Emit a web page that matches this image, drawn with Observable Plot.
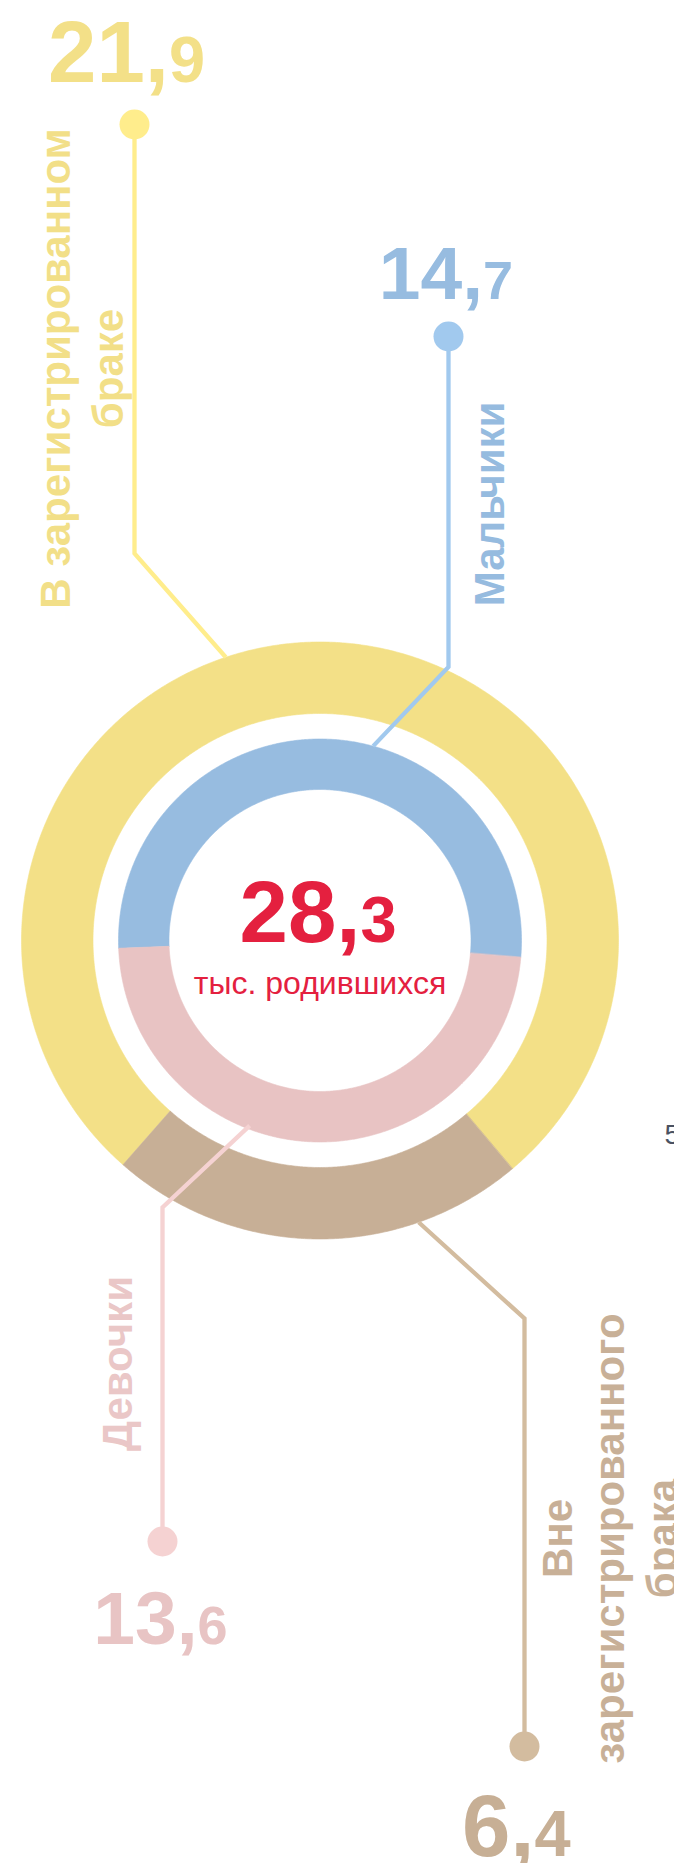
<!DOCTYPE html>
<html><head><meta charset="utf-8">
<script src="https://cdn.jsdelivr.net/npm/d3@7"></script>
<script src="https://cdn.jsdelivr.net/npm/@observablehq/plot@0.6"></script>
<style>
html,body{margin:0;padding:0;background:#fff;overflow:hidden;}
#chart svg{display:block;overflow:hidden;}
</style></head><body><div id="chart"></div>
<script>
// ---------------- data ----------------
const marriageCategories = ["В зарегистрированном браке", "Вне зарегистрированного брака"];
const marriageValues = [21.9, 6.4];
const sexCategories = ["Мальчики", "Девочки"];
const sexValues = [14.7, 13.6];
const totalValue = 28.3;
const totalUnit = "тыс. родившихся";
const labelLines = {
  "В зарегистрированном браке": "В зарегистрированном\nбраке",
  "Вне зарегистрированного брака": "Вне\nзарегистрированного\nбрака",
  "Мальчики": "Мальчики",
  "Девочки": "Девочки"
};
const strayText = "5";

// ---------------- layout & style ----------------
const W = 674, H = 1863;
const cx = 319.5, cy = 940;
const deg = Math.PI / 180;
const ringGeom = {
  outer: {r0: 227, r1: 298.5, start: 221.3},
  inner: {r0: 151, r1: 201.5, start: 267.8}
};
const style = {
  "В зарегистрированном браке": {ring: "#F3E087", line: "#FFED8C", text: "#F3E088", label: "#F2DF88"},
  "Вне зарегистрированного брака": {ring: "#C7AF96", line: "#D3BC9F", text: "#C7AF95", label: "#C8B097"},
  "Мальчики": {ring: "#97BCE0", line: "#A1C9EE", text: "#97BCE0", label: "#96BBDF"},
  "Девочки": {ring: "#E8C3C3", line: "#F5D2D2", text: "#E8C4C4", label: "#EAC7C7"}
};
const callout = {
  "В зарегистрированном браке":   {angle: 341.6, r: 298.5, bend: [134, 553],  dot: [134, 124],  joint: 168.5, base: 81,   big: 87, small: 65, lx: 122, ly: 368},
  "Мальчики":                      {angle: 15.3,  r: 201.5, bend: [448, 666.5], dot: [448, 336],  joint: 482.5, base: 298,  big: 75, small: 54, lx: 503, ly: 503.5},
  "Девочки":                       {angle: 200.8, r: 198,   bend: [162, 1207], dot: [162, 1541], joint: 197, base: 1643, big: 75, small: 54, lx: 131, ly: 1363},
  "Вне зарегистрированного брака": {angle: 160.7, r: 298.5, bend: [524, 1318], dot: [524, 1746], joint: 534, base: 1855, big: 87, small: 65, lx: 676, ly: 1538}
};
const labelSize = 42, labelLH = 1.24;
const FONT = "'Liberation Sans', Arial, Helvetica, sans-serif";
const RED = "#E4203F";

// ---------------- geometry built from data ----------------
function ringSegments(cats, vals, g) {
  const pie = d3.pie().sort(null).value(d => d.v)
    .startAngle(g.start * deg).endAngle(g.start * deg + 2 * Math.PI);
  return pie(cats.map((c, i) => ({c, v: vals[i]})));
}
function arcPolygon(seg, g) {
  const a0 = seg.startAngle, a1 = seg.endAngle;
  const n = Math.max(4, Math.ceil((a1 - a0) / (0.4 * deg)));
  const pts = [];
  for (let i = 0; i <= n; i++) {
    const a = a0 + (a1 - a0) * i / n;
    pts.push({x: cx + g.r1 * Math.sin(a), y: cy - g.r1 * Math.cos(a)});
  }
  for (let i = n; i >= 0; i--) {
    const a = a0 + (a1 - a0) * i / n;
    pts.push({x: cx + g.r0 * Math.sin(a), y: cy - g.r0 * Math.cos(a)});
  }
  return pts;
}
const outerSegs = ringSegments(marriageCategories, marriageValues, ringGeom.outer);
const innerSegs = ringSegments(sexCategories, sexValues, ringGeom.inner);

const ringMarks = [
  ...outerSegs.map(s => Plot.line(arcPolygon(s, ringGeom.outer), {x: "x", y: "y", curve: "linear-closed", fill: style[s.data.c].ring, stroke: style[s.data.c].ring, strokeWidth: 0.6})),
  ...innerSegs.map(s => Plot.line(arcPolygon(s, ringGeom.inner), {x: "x", y: "y", curve: "linear-closed", fill: style[s.data.c].ring, stroke: style[s.data.c].ring, strokeWidth: 0.6}))
];

const allCats = [...marriageCategories, ...sexCategories];
const allVals = [...marriageValues, ...sexValues];

const leaderMarks = allCats.map(c => {
  const L = callout[c];
  const a = L.angle * deg;
  const pts = [
    {x: cx + L.r * Math.sin(a), y: cy - L.r * Math.cos(a)},
    {x: L.bend[0], y: L.bend[1]},
    {x: L.dot[0], y: L.dot[1]}
  ];
  return Plot.line(pts, {x: "x", y: "y", stroke: style[c].line, strokeWidth: 4.3, strokeLinejoin: "miter", strokeLinecap: "butt", strokeMiterlimit: 4});
});

const dotMarks = Plot.dot(allCats, {x: c => callout[c].dot[0], y: c => callout[c].dot[1], r: 15, fill: c => style[c].line, stroke: "none"});

function splitNum(v) {
  const s = d3.format(".1f")(v).replace(".", ",");
  const k = s.indexOf(",");
  return [s.slice(0, k + 1), s.slice(k + 1)];
}

const numberMarks = allCats.flatMap((c, i) => {
  const L = callout[c];
  const [a, b] = splitNum(allVals[i]);
  return [
    Plot.text([a], {x: () => L.joint, y: () => L.base, text: d => d, textAnchor: "end", lineAnchor: "bottom", fontSize: L.big, fontWeight: "bold", fontFamily: FONT, fill: style[c].text}),
    Plot.text([b], {x: () => L.joint, y: () => L.base, text: d => d, textAnchor: "start", lineAnchor: "bottom", fontSize: L.small, fontWeight: "bold", fontFamily: FONT, fill: style[c].text})
  ];
});

const labelMarks = allCats.map(c => {
  const L = callout[c];
  return Plot.text([labelLines[c]], {x: () => L.lx, y: () => L.ly, text: d => d, rotate: -90, textAnchor: "middle", lineAnchor: "bottom", lineHeight: labelLH, fontSize: labelSize, fontWeight: "bold", fontFamily: FONT, fill: style[c].label});
});

const [tA, tB] = splitNum(totalValue);
const centerJoint = 360, centerBase = 941;
const centerMarks = [
  Plot.text([tA], {x: () => centerJoint, y: () => centerBase, text: d => d, textAnchor: "end", lineAnchor: "bottom", fontSize: 87, fontWeight: "bold", fontFamily: FONT, fill: RED}),
  Plot.text([tB], {x: () => centerJoint, y: () => centerBase, text: d => d, textAnchor: "start", lineAnchor: "bottom", fontSize: 65, fontWeight: "bold", fontFamily: FONT, fill: RED}),
  Plot.text([totalUnit], {x: () => cx, y: () => 993, text: d => d, textAnchor: "middle", lineAnchor: "bottom", fontSize: 32, fontFamily: FONT, fill: RED})
];

const strayMark = Plot.text([strayText], {x: () => 664, y: () => 1143, text: d => d, textAnchor: "start", lineAnchor: "bottom", fontSize: 28, fontFamily: FONT, fill: "#4A5262"});

const chart = Plot.plot({
  width: W, height: H,
  marginTop: 0, marginRight: 0, marginBottom: 0, marginLeft: 0,
  x: {type: "linear", domain: [0, W], range: [0, W], axis: null},
  y: {type: "linear", domain: [0, H], range: [0, H], axis: null},
  style: {fontFamily: FONT, background: "#ffffff", overflow: "hidden"},
  marks: [
    ...ringMarks,
    ...leaderMarks,
    dotMarks,
    ...numberMarks,
    ...labelMarks,
    ...centerMarks,
    strayMark
  ]
});
document.getElementById("chart").appendChild(chart);
</script>
</body></html>
